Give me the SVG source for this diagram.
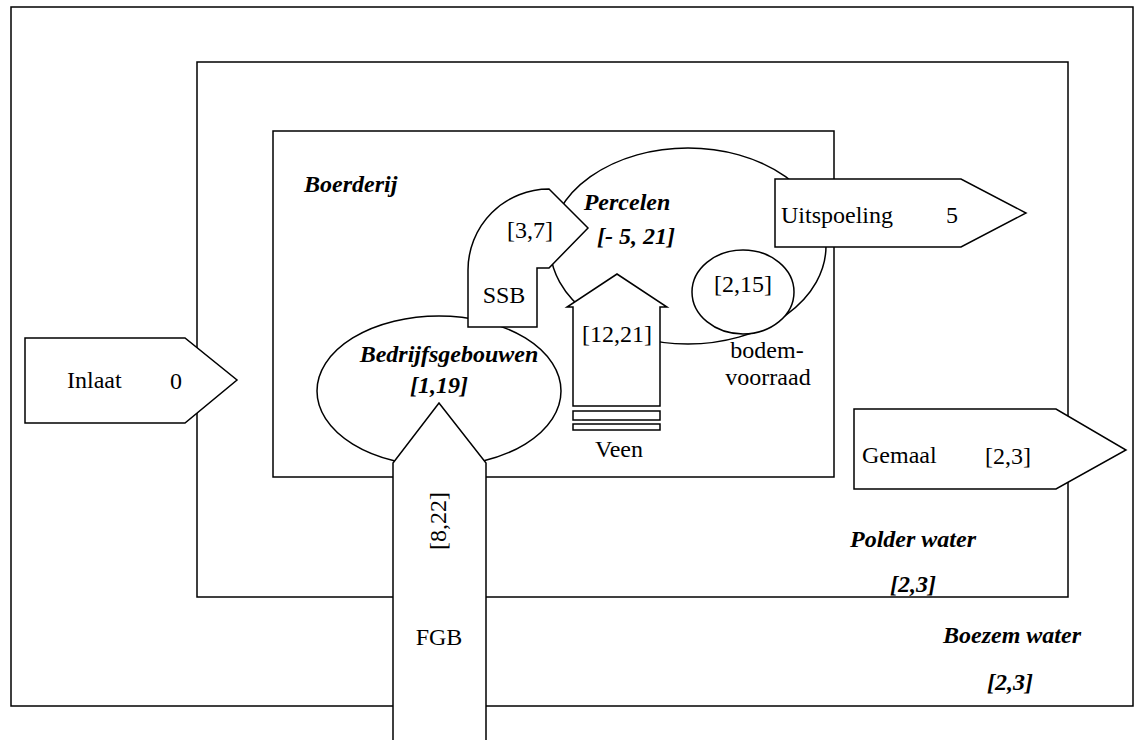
<svg xmlns="http://www.w3.org/2000/svg" width="1135" height="740" viewBox="0 0 1135 740" font-family="'Liberation Serif', Tinos, 'Times New Roman', 'DejaVu Serif', serif">
<style>
.ln{fill:none;stroke:#000;stroke-width:1.5}
.sh{fill:#fff;stroke:#000;stroke-width:1.5}
text{font-family:'Liberation Serif', Tinos, 'Times New Roman', 'DejaVu Serif', serif;font-size:24px;fill:#000}
.bi{font-weight:bold;font-style:italic}
.m{text-anchor:middle}
</style>
<rect x="0" y="0" width="1135" height="740" fill="#fff"/>
<g id="boezem"><rect class="ln" x="11" y="7" width="1122" height="699"/>
<text class="bi m" x="1012" y="643">Boezem water</text><text class="bi m" x="1010" y="690">[2,3]</text></g>
<g id="polder"><rect class="ln" x="197" y="62" width="871" height="535"/>
<text class="bi m" x="913" y="547">Polder water</text><text class="bi m" x="913" y="592">[2,3]</text></g>
<g id="boerderij"><rect class="ln" x="273" y="131" width="561" height="346"/>
<text class="bi" x="304" y="192">Boerderij</text></g>
<g id="percelen"><ellipse class="sh" cx="688" cy="246" rx="138" ry="98"/>
<text class="bi m" x="627" y="210">Percelen</text><text class="bi m" x="636" y="244">[- 5, 21]</text></g>
<g id="bodemvoorraad"><ellipse class="sh" cx="743" cy="292" rx="51" ry="42"/>
<text class="m" x="743" y="292">[2,15]</text>
<text class="m" x="767" y="358">bodem-</text><text class="m" x="768" y="385">voorraad</text></g>
<g id="bedrijfsgebouwen"><ellipse class="sh" cx="439" cy="391" rx="122" ry="75"/>
<text class="bi m" x="449" y="362">Bedrijfsgebouwen</text><text class="bi m" x="439" y="393">[1,19]</text></g>
<g id="connectors">
<g id="ssb"><path class="sh" d="M468,327 L468,270 A81,81 0 0 1 549,189 L588,228 L549,268 L537,268 L537,327 Z"/>
<text class="m" x="530" y="238">[3,7]</text><text class="m" x="504" y="303">SSB</text></g>
<g id="veen"><polygon class="sh" points="573,406 573,307 567,307 617,274 667,307 660,307 660,406"/>
<rect class="sh" x="573" y="411" width="87" height="9"/><rect class="sh" x="573" y="424" width="87" height="6"/>
<text class="m" x="617" y="342">[12,21]</text><text class="m" x="619" y="457">Veen</text></g>
<g id="fgb"><polygon class="sh" points="393,745 393,463 439,403 486,463 486,745"/>
<text class="m" transform="translate(446,521) rotate(-90)">[8,22]</text><text class="m" x="439" y="645">FGB</text></g>
<g id="inlaat"><polygon class="sh" points="25,338 185,338 237,380 185,423 25,423"/>
<text x="67" y="388">Inlaat</text><text class="m" x="176" y="389">0</text></g>
<g id="uitspoeling"><polygon class="sh" points="775,179 961,179 1026,213 961,247 775,247"/>
<text x="781" y="223">Uitspoeling</text><text class="m" x="952" y="223">5</text></g>
<g id="gemaal"><polygon class="sh" points="854,409 1056,409 1126,450 1056,489 854,489"/>
<text x="862" y="463">Gemaal</text><text x="985" y="464">[2,3]</text></g>
</g>
</svg>
